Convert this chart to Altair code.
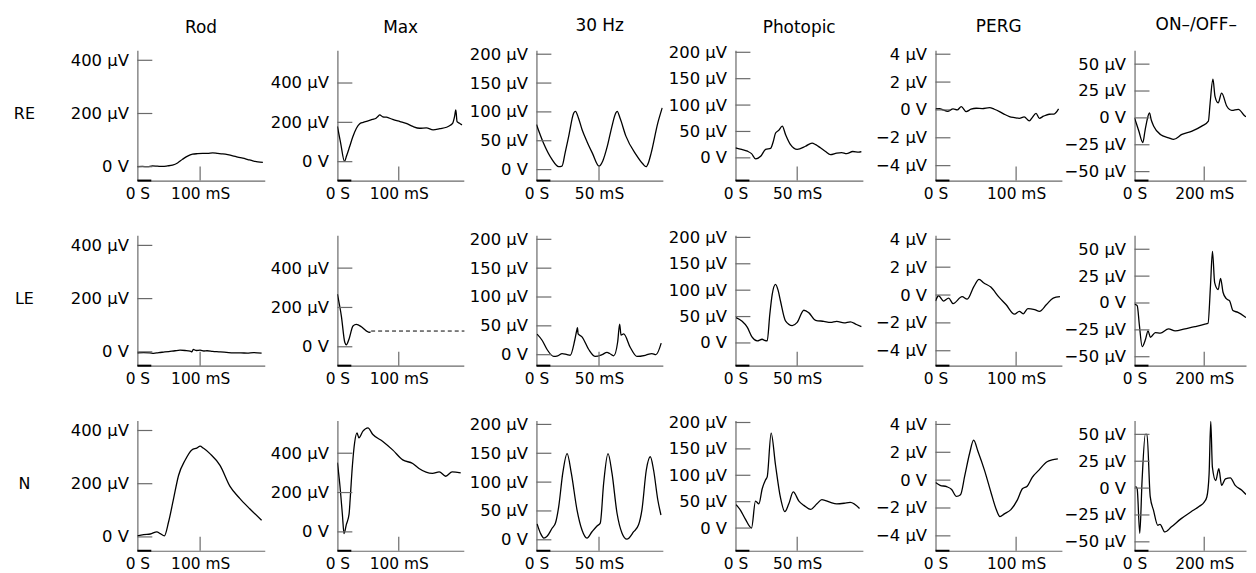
import altair as alt
import pandas as pd

# ---------------- data ----------------
columns_names = ["Rod", "Max", "30 Hz", "Photopic", "PERG", "ON\u2013/OFF\u2013"]
row_names = ["RE", "LE", "N"]

# Rod
rod_re_t = [0, 8, 16, 24, 32, 40, 48, 56, 64, 72, 80, 88, 96, 104, 112, 120, 128, 136, 144, 152, 160, 168, 176, 184, 192, 200]
rod_re_v = [0, 1, 0, 3, 2, 1, 3, 6, 14, 28, 40, 47, 49, 50, 50, 52, 50, 48, 45, 41, 36, 32, 27, 22, 18, 16]
rod_le_t = [0, 10, 20, 26, 34, 42, 50, 60, 68, 76, 84, 87, 89, 94, 100, 106, 111, 120, 132, 142, 153, 165, 175, 185, 198]
rod_le_v = [-4, -3, -4, -6, -3, -1, 1, 4, 6, 5, 3, 0, 9, 5, 6, 3, 4, 2, 0, -2, -4, -4, -5, -3, -5]
rod_n_t = [0, 10, 20.6, 31, 36.5, 43, 49.7, 57.7, 65.6, 76, 86.8, 94.7, 100, 105, 116, 131.7, 147.6, 163.5, 179, 198]
rod_n_v = [4, 9, 11, 19, 12.5, 4, 56, 144, 231, 288, 327, 334, 341, 334, 312, 269, 190, 144, 106, 62.5]

# Max
max_re_t = [0, 5, 11.5, 15, 20, 25, 31, 36, 42, 50, 57, 63, 66, 69, 74, 80, 90, 102, 112, 123, 134, 145, 156, 167, 178, 184, 188, 191, 193, 195, 199, 203]
max_re_v = [179, 100, 2, 30, 77, 125, 170, 192, 200, 208, 215, 221, 230, 238, 228, 226, 215, 204, 195, 179, 170, 172, 162, 168, 175, 185, 196, 230, 263, 204, 195, 187]
max_le_t = [0, 6.5, 12, 14.6, 19, 25.4, 30.8, 39, 47, 52.4, 54]
max_le_v = [268, 155, 23, 10, 40, 106, 114, 102, 81, 73, 76]
max_le_dash_t = [55, 207]
max_le_dash_v = [80, 80]
max_n_t = [0, 3.8, 8.1, 10.8, 14.6, 19, 21, 24.3, 28, 32, 35, 41.6, 49.7, 57.8, 74, 90, 106.5, 122.7, 133, 155, 166, 176.6, 187, 201]
max_n_v = [352, 245, 90, -9, 38, 90, 176, 331, 452, 503, 478, 512, 529, 495, 460, 417, 366, 348, 322, 297, 305, 283, 305, 300]

# 30 Hz
hz_re_t = [0, 5.6, 12.3, 17.7, 20.4, 23, 25.8, 29.8, 31.2, 33.5, 36.5, 40.5, 44.6, 50, 53, 56.7, 60, 63.4, 64.5, 67, 71.5, 79.6, 85, 87.6, 89.5, 91.7, 97, 100.5]
hz_re_v = [78, 46, 18, 5, 6, 30, 58, 98, 101, 90, 69, 48, 29, 6, 15, 41, 72, 98, 101, 88, 58, 26, 10, 5, 12, 29, 81, 107]
hz_le_t = [0.5, 4.5, 8.5, 13.8, 17, 20.5, 24.5, 27, 30.6, 32.4, 32.8, 33.3, 36.4, 41.8, 47, 52.4, 56.4, 58.5, 61.7, 64.9, 66.5, 67.6, 69.7, 75, 80.3, 87, 92.3, 95.5, 99.7]
hz_le_v = [35.6, 25, 9, -3, -2, 2, 0, -1, 25, 44, 47, 36, 31, 9, -3, 0, 4, 2, -2, 22, 53, 34, 36, 12.5, -3, -1, 2, 0, 20]
hz_n_t = [0.5, 3.2, 5.9, 8.5, 12.5, 15.2, 17.8, 21, 24.5, 27.9, 32.4, 36.4, 40.4, 44.4, 48.4, 51, 53.7, 57.2, 60.4, 64.4, 68.4, 72.3, 77.7, 81.6, 84.3, 87.8, 91, 93.6, 97, 99.5]
hz_n_v = [27.6, 11.5, 3, 6, 20, 29, 57.5, 115, 149.5, 115, 52, 17, 3, 14, 24, 29, 98, 149.5, 115, 46, 11.5, 1, 14, 26, 52, 121, 144, 121, 69, 43]

# Photopic
ph_re_t = [0, 5, 9.7, 13, 16.4, 20.4, 24.4, 28.5, 30.5, 32.5, 35, 37.9, 40.6, 44.6, 50, 56.7, 62, 65, 68.8, 73, 76.9, 82, 86, 90, 95, 100, 102]
ph_re_v = [19, 16, 12.6, 8, -2, 3, 16, 18, 30, 47, 52, 60, 44, 25, 16, 22, 28, 25, 19, 12, 6, 9, 10, 8, 12, 11, 12]
ph_le_t = [0.5, 5.4, 9.5, 13.5, 17.6, 21.6, 23.5, 25.7, 27.8, 29.7, 32.4, 34.5, 36.5, 40.5, 46, 50, 55.4, 59.5, 64.9, 71.6, 77, 82, 88, 93, 98, 102]
ph_le_v = [48, 41, 30, 11, 4, 7, 5, 4, 54, 91, 111, 100, 79, 42, 33, 39, 62, 57, 43, 41, 39, 41, 38, 40, 35, 31]
ph_n_t = [0.5, 4, 8, 13, 16.2, 19, 21.6, 24.3, 25.7, 28.9, 32.4, 36.5, 40, 43.2, 46.8, 51.4, 55.4, 60.8, 66, 70, 77, 82, 88, 93, 100.5]
ph_n_v = [44.5, 34, 17, 0, 51, 46, 74, 91, 97, 180, 120, 57, 31, 46, 68.5, 51, 43, 35.4, 46, 54, 48.5, 46, 47, 48.6, 37]

# PERG
pg_re_t = [0, 5, 9.5, 15, 21.8, 27, 32, 38, 44, 50.6, 58, 67, 73, 79.4, 85, 91.7, 98, 104, 110, 116.4, 120, 124.7, 128.8, 134, 141, 147, 152.7]
pg_re_v = [0.07, 0.1, 0, -0.1, 0.07, 0, 0.24, -0.12, 0.05, 0.12, 0.1, 0.17, 0.05, -0.12, -0.3, -0.48, -0.55, -0.6, -0.5, -0.79, -0.55, -0.24, -0.6, -0.45, -0.31, -0.3, 0.07]
pg_le_t = [0, 3.8, 10, 16.3, 21.8, 33, 39.3, 47.7, 54, 60, 68.6, 79, 87.4, 98, 104, 108.8, 114.6, 123, 129, 137.7, 146, 154.4]
pg_le_v = [-0.43, -0.05, -0.43, -0.22, -0.62, -0.12, -0.3, 0.62, 1.12, 0.87, 0.57, -0.17, -0.68, -1.37, -1.17, -1.35, -0.97, -1.05, -1.17, -0.68, -0.22, -0.12]
pg_n_t = [0, 5.7, 13.9, 20, 26, 31, 36.3, 42.4, 47.3, 52.6, 60.8, 69, 75, 80, 85.3, 93.5, 101.6, 107.8, 114, 120, 128, 138.4, 144.5, 151.8]
pg_n_v = [-0.17, -0.37, -0.47, -0.67, -1.17, -1.05, 0.32, 1.95, 2.87, 2.07, 0.7, -0.92, -2.05, -2.62, -2.42, -2.12, -1.42, -0.62, -0.42, 0.2, 0.7, 1.32, 1.45, 1.52]

# ON-/OFF-
oo_re_t = [0, 5, 12, 23.8, 30, 36, 42.8, 48, 55, 74, 98, 112, 136, 165, 193, 212, 217, 225, 231, 240, 250, 265, 279, 298, 316, 320]
oo_re_v = [0, -5, -12, -23, -12, -2, 4.6, -2, -7.7, -15.4, -18.5, -20, -15.4, -12.3, -7.7, -3, 13.9, 36, 20, 14, 23, 10.8, 7, 8, 2, 1]
oo_le_t = [0, 7.6, 14, 21.8, 31.3, 38.9, 45.5, 59.7, 74, 97.6, 116.6, 145, 173.5, 202, 211, 218, 223.7, 230, 240, 247, 254, 263.5, 273, 282.5, 296.7, 315.6, 320]
oo_le_v = [-1, -2.5, -21, -40.6, -34, -26, -32, -27.5, -28, -24, -26, -24, -22, -19.7, -18.8, 16, 48, 19, 12.5, 23, 10, 4, 2, -7, -8.75, -12.5, -13.5]
oo_n_t = [3, 7.5, 15, 21.6, 31, 35.7, 45, 54.5, 66.7, 73, 87, 106, 134, 162.4, 186, 200, 207.5, 214, 218.8, 223.5, 233, 242, 250, 261, 275, 289, 308, 320]
oo_n_v = [1.5, -0.6, -42, 7, 50, 50, -8, -20.7, -34.6, -33.7, -40.8, -36, -28.4, -22, -17, -13, -8.3, 13, 62, 19.5, 7, 18, 2.5, 8.6, 9.6, 2.5, -2, -6]

traces = [
    [(rod_re_t, rod_re_v), (max_re_t, max_re_v), (hz_re_t, hz_re_v), (ph_re_t, ph_re_v), (pg_re_t, pg_re_v), (oo_re_t, oo_re_v)],
    [(rod_le_t, rod_le_v), (max_le_t, max_le_v), (hz_le_t, hz_le_v), (ph_le_t, ph_le_v), (pg_le_t, pg_le_v), (oo_le_t, oo_le_v)],
    [(rod_n_t, rod_n_v), (max_n_t, max_n_v), (hz_n_t, hz_n_v), (ph_n_t, ph_n_v), (pg_n_t, pg_n_v), (oo_n_t, oo_n_v)],
]

# axis set-up per column
x_domains = [[0, 203], [0, 206], [0, 101], [0, 103.2], [0, 156.8], [0, 320]]
x_ticks = [100, 100, 50, 50, 100, 200]
y_domains = [[-52, 438], [-96, 567], [-19, 207], [-43, 204], [-5.07, 4.29], [-58.3, 63]]
y_ticks = [[0, 200, 400], [0, 200, 400], [0, 50, 100, 150, 200], [0, 50, 100, 150, 200],
           [-4, -2, 0, 2, 4], [-50, -25, 0, 25, 50]]
title_dy = [1, 1, 3, 7, 4, -2]
widths = [128, 127, 127, 128, 127, 112]

H = 131
FONT = "DejaVu Sans"
AXC = "#6a6a6a"
YFS = 16.5
XFS = 15.5

y_label_expr = ("datum.value == 0 ? '0 V' : (datum.value < 0 ? '\u2212' + (-datum.value) : '' + datum.value) + ' \u00b5V'")
x_label_expr = "datum.value == 0 ? '0 S' : datum.value + ' mS'"


def panel(r, c):
    t, v = traces[r][c]
    df = pd.DataFrame({"t": t, "v": v})
    xs = alt.Scale(domain=x_domains[c], nice=False, zero=False)
    ys = alt.Scale(domain=y_domains[c], nice=False, zero=False)
    w = widths[c]

    yaxis_kw = dict(values=y_ticks[c], labelExpr=y_label_expr, ticks=False, labelPadding=9,
                    domainColor=AXC, domainWidth=1.2, grid=False, labelOverlap=False,
                    labelFont=FONT, labelFontSize=YFS, labelColor="black")
    if c == 0:
        yaxis_kw.update(title=row_names[r], titleAngle=0, titleX=-114, titleY=H / 2 - 2,
                        titleAlign="center", titleBaseline="middle", titleFont=FONT,
                        titleFontSize=16, titleFontWeight="normal", titleColor="black")
    else:
        yaxis_kw.update(title=None)
    yaxis = alt.Axis(**yaxis_kw)
    xaxis = alt.Axis(values=[0, x_ticks[c]], labelExpr=x_label_expr, ticks=False, labelPadding=6,
                     domainColor=AXC, domainWidth=1.2, grid=False, labelFlush=False,
                     labelOverlap=False, labelFont=FONT, labelFontSize=XFS, labelColor="black",
                     title=None)

    line = alt.Chart(df).mark_line(color="black", strokeWidth=1.3, clip=True,
                                   interpolate="monotone").encode(
        x=alt.X("t:Q", scale=xs, axis=xaxis),
        y=alt.Y("v:Q", scale=ys, axis=yaxis),
        order="t:Q",
    )
    layers = [line]
    if r == 1 and c == 1:
        dash = alt.Chart(pd.DataFrame({"t": max_le_dash_t, "v": max_le_dash_v})).mark_line(
            color="black", strokeWidth=1, strokeDash=[4, 3]).encode(
            x=alt.X("t:Q", scale=xs, axis=None), y=alt.Y("v:Q", scale=ys, axis=None))
        layers.append(dash)
    ytk = alt.Chart(pd.DataFrame({"v": y_ticks[c]})).mark_rule(color=AXC, strokeWidth=1.2).encode(
        y=alt.Y("v:Q", scale=ys, axis=None), x=alt.value(0), x2=alt.value(15))
    xtk = alt.Chart(pd.DataFrame({"t": [x_ticks[c]]})).mark_rule(color=AXC, strokeWidth=1.2).encode(
        x=alt.X("t:Q", scale=xs, axis=None), y=alt.value(H), y2=alt.value(H - 14))
    stim = alt.Chart(pd.DataFrame({"t": [0]})).mark_rule(color="black", strokeWidth=2).encode(
        x=alt.value(0), x2=alt.value(14), y=alt.value(H))
    layers += [ytk, xtk, stim]
    ch = alt.layer(*layers).resolve_axis(x="independent", y="independent").properties(width=w, height=H)
    if r == 0:
        ch = ch.properties(title=alt.TitleParams(
            text=columns_names[c], font=FONT, fontSize=17, fontWeight="normal", color="black",
            frame="group", anchor="middle", offset=14, dy=title_dy[c], dx=(6 if c == 5 else 0)))
    return ch


panels = [panel(r, c) for r in range(3) for c in range(6)]

chart = alt.concat(*panels, columns=6, spacing=alt.RowColnumber(row=55, column=73), bounds="flush").properties(
    padding={"left": 5, "top": 7, "right": 2, "bottom": 5}
).configure_view(stroke=None).configure_axis(labelOverlap=False, labelBound=False)

chart.save("out.html", embed_options={"renderer": "svg", "actions": False})
